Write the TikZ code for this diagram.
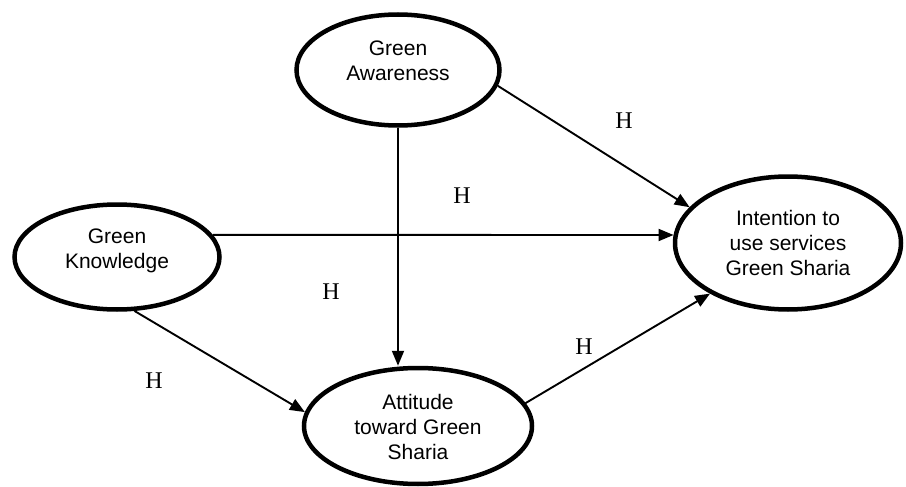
\documentclass[tikz,border=0pt]{standalone}
\usepackage{fontspec}
\setmainfont{Liberation Sans}
\newfontfamily\hfont{Liberation Serif}
\usetikzlibrary{shapes.geometric,arrows.meta}
\begin{document}
\begin{tikzpicture}[x=1pt,y=-1pt,
  construct/.style={ellipse,draw,line width=4.5pt,inner sep=0pt},
  ctext/.style={align=center,inner sep=0pt,font=\fontsize{21}{25}\selectfont},
  link/.style={line width=1.9pt,-{Triangle[length=15pt,width=12pt]}},
  hyp/.style={font=\hfont\fontsize{24}{24}\selectfont,inner sep=0pt}]
\useasboundingbox (0,0) rectangle (906,487);
\node[construct,minimum width=203pt,minimum height=111pt] (ga) at (398,70) {};
\node[construct,minimum width=205pt,minimum height=105pt] (gk) at (117,257) {};
\node[construct,minimum width=228pt,minimum height=116pt] (att) at (418,426) {};
\node[construct,minimum width=226pt,minimum height=133pt] (int) at (788,243) {};
\node[ctext] (ga-t) at (398,61) {Green\\Awareness};
\node[ctext] (gk-t) at (117,251) {Green\\Knowledge};
\node[ctext] (att-t) at (418,427) {Attitude\\toward Green\\Sharia};
\node[ctext] (int-t) at (788,243) {Intention to\\use services\\Green Sharia};
\draw[link] (ga.-9) -- (int.160);
\draw[link] (gk.13) -- (int.176);
\draw[link] (ga.south) -- (ga.south |- att.north);
\draw[link] (gk.-72) -- (att.173);
\draw[link] (att.12) -- (int.213);
\node[hyp] (h1) at (624,121) {H};
\node[hyp] (h2) at (462,196) {H};
\node[hyp] (h3) at (331,292) {H};
\node[hyp] (h4) at (584,347) {H};
\node[hyp] (h5) at (154,381) {H};
\end{tikzpicture}
\end{document}
